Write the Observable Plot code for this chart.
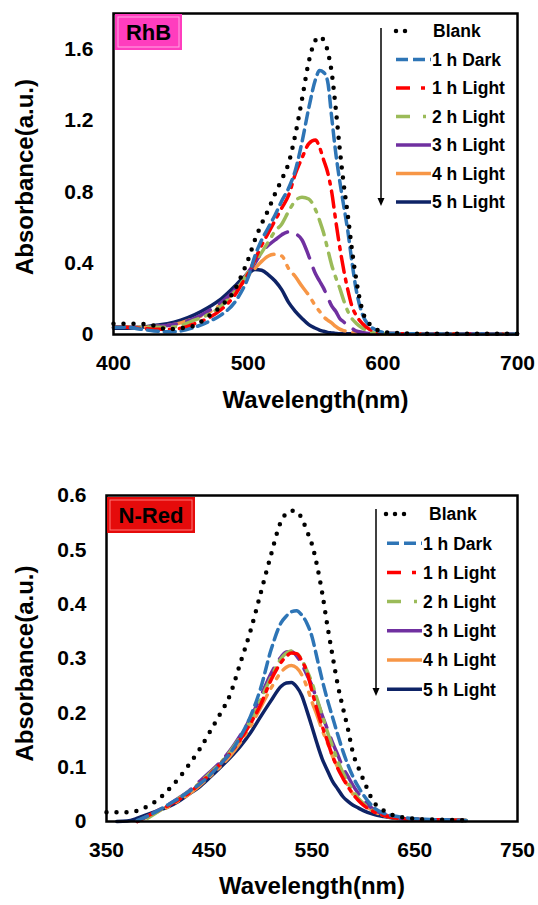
<!DOCTYPE html>
<html><head><meta charset="utf-8">
<script src="https://cdn.jsdelivr.net/npm/d3@7"></script>
<script src="https://cdn.jsdelivr.net/npm/@observablehq/plot@0.6"></script>
<style>
html,body{margin:0;padding:0;background:#fff;}
#chart{width:538px;height:905px;position:relative;}
#chart svg{display:block;}
</style></head><body><div id="chart"></div>
<script>
const seriesNames = ["Blank","1 h Dark","1 h Light","2 h Light","3 h Light","4 h Light","5 h Light"];
const seriesColors = ["#000000","#2E75B6","#FF0000","#9BBB59","#7030A0","#F79646","#0E2366"];

// ---- RhB panel ----
const rhbTicksX = [400,500,600,700];
const rhbTicksY = [0,0.4,0.8,1.2,1.6];
const rhbWavelength = [400,410,420,430,440,450,460,470,480,490,495,500,505,510,515,520,525,530,535,540,545,550,553,556,559,562,565,568,571,574,577,580,585,590,595,600,610,620,640,660,680,700];
const rhbBlank  = [.06,.06,.06,.05,.03,.035,.05,.10,.16,.25,.33,.42,.53,.62,.70,.79,.87,.96,1.12,1.32,1.53,1.65,1.67,1.65,1.59,1.47,1.27,1.04,.84,.67,.48,.32,.13,.06,.03,.015,.008,.005,.004,.004,.004,.004];
const rhbDark1  = [.04,.04,.03,.02,.015,.02,.04,.07,.11,.18,.24,.32,.44,.53,.60,.67,.75,.82,.92,1.08,1.27,1.43,1.48,1.47,1.42,1.22,1.02,.86,.72,.58,.41,.26,.11,.05,.025,.012,.006,.004,.003,.003,.003,.003];
const rhbLight1 = [.04,.04,.035,.03,.03,.035,.06,.09,.14,.22,.28,.34,.42,.50,.57,.64,.71,.78,.90,.99,1.07,1.09,1.05,.98,.91,.80,.64,.49,.36,.25,.16,.11,.06,.03,.015,.008,.005,.003,.003,.003,.003,.003];
const rhbLight2 = [.04,.04,.04,.04,.04,.05,.08,.11,.16,.24,.29,.35,.41,.46,.52,.58,.62,.69,.75,.77,.76,.70,.64,.57,.48,.39,.32,.26,.19,.13,.09,.065,.035,.015,.008,.005,.003,.003,.003,.003,.003,.003];
const rhbLight3 = [.04,.04,.04,.045,.05,.065,.09,.13,.18,.25,.30,.35,.40,.46,.50,.53,.56,.575,.565,.53,.44,.34,.30,.26,.21,.16,.13,.09,.07,.05,.035,.02,.012,.006,.004,.003,.003,.003,.003,.003,.003,.003];
const rhbLight4 = [.04,.04,.04,.045,.05,.065,.09,.12,.17,.24,.28,.33,.37,.41,.44,.45,.44,.37,.325,.27,.22,.16,.13,.10,.08,.065,.045,.03,.022,.016,.012,.009,.006,.004,.003,.003,.003,.003,.003,.003,.003,.003];
const rhbLight5 = [.035,.035,.04,.05,.06,.08,.11,.15,.20,.27,.31,.34,.365,.36,.335,.30,.25,.18,.13,.09,.055,.035,.025,.018,.012,.009,.006,.004,.004,.004,.004,.004,.004,.004,.004,.004,.004,.004,.004,.004,.004,.004];

// ---- N-Red panel ----
const nredTicksX = [350,450,550,650,750];
const nredTicksY = [0,0.1,0.2,0.3,0.4,0.5,0.6];
const nredWavelength = [350,360,370,380,390,400,410,420,430,440,450,460,470,480,490,500,510,520,525,530,535,540,545,550,555,560,565,570,575,580,585,590,595,600,610,620,630,640,650,660,680,700];
const nredBlank  = [.017,.017,.017,.02,.028,.04,.058,.079,.104,.131,.163,.196,.232,.29,.35,.42,.49,.553,.567,.572,.571,.558,.535,.51,.47,.42,.36,.305,.252,.21,.17,.125,.10,.077,.036,.02,.011,.007,.005,.004,.003,.002];
const nredDark1  = [null,null,null,.002,.01,.02,.031,.042,.055,.068,.084,.104,.125,.155,.193,.245,.315,.366,.378,.386,.388,.38,.365,.34,.30,.26,.224,.192,.16,.13,.104,.082,.064,.049,.026,.015,.01,.007,.005,.004,.003,.002];
const nredLight1 = [null,null,null,.0,.01,.02,.029,.04,.052,.068,.086,.104,.125,.15,.18,.215,.26,.293,.304,.31,.309,.296,.276,.24,.205,.175,.148,.12,.098,.08,.064,.05,.039,.03,.018,.011,.007,.005,.004,.003,.003,.002];
const nredLight2 = [null,null,null,null,.006,.018,.029,.042,.055,.07,.088,.106,.128,.155,.186,.224,.265,.30,.31,.314,.31,.298,.278,.255,.225,.195,.165,.138,.112,.09,.072,.056,.043,.033,.019,.011,.007,.005,.004,.003,.003,.002];
const nredLight3 = [null,null,null,.0,.01,.02,.031,.043,.056,.073,.09,.108,.13,.158,.19,.23,.272,.303,.312,.313,.305,.29,.27,.25,.222,.195,.17,.145,.123,.10,.083,.066,.052,.04,.022,.013,.008,.005,.004,.003,.003,.002];
const nredLight4 = [null,null,null,.0,.009,.018,.027,.038,.05,.065,.082,.10,.12,.145,.175,.21,.245,.275,.284,.287,.283,.27,.248,.22,.195,.168,.145,.12,.10,.083,.066,.05,.04,.032,.019,.011,.007,.005,.004,.003,.003,.002];
const nredLight5 = [null,.0,.001,.006,.013,.02,.027,.037,.05,.063,.08,.098,.117,.138,.163,.193,.222,.249,.255,.256,.248,.232,.204,.174,.143,.115,.094,.074,.06,.046,.037,.03,.025,.02,.013,.009,.006,.005,.004,.003,.002,.002];

const lineStyles = [
  {strokeWidth: 4.5, strokeDasharray: "0,10", strokeLinecap: "round"},
  {strokeWidth: 3.5, strokeDasharray: "11,6"},
  {strokeWidth: 3.5, strokeDasharray: "16,7,3,7"},
  {strokeWidth: 3.5, strokeDasharray: "16,8,3,8"},
  {strokeWidth: 3.5, strokeDasharray: "26,11"},
  {strokeWidth: 3.5, strokeDasharray: "24,8,3,8,3,8"},
  {strokeWidth: 3.5}
];
const legendStyles = [
  {strokeWidth: 4.5, dash: "0,9", cap: "round"},
  {strokeWidth: 3.5, dash: "12,5"},
  {strokeWidth: 3.5, dash: "14,11,4,11"},
  {strokeWidth: 3.5, dash: "14,13,3,11"},
  {strokeWidth: 3.5, dash: null},
  {strokeWidth: 3.5, dash: null},
  {strokeWidth: 3.5, dash: null}
];

const fmt = d => d === 0 ? "0" : d.toFixed(1);
const FONT = "'Liberation Sans', Arial, sans-serif";

function rows(wl, vals) {
  return wl.map((x, i) => ({x, y: vals[i]})).filter(d => d.y != null);
}

function panel(cfg) {
  const lines = [];
  for (let k = cfg.series.length - 1; k >= 0; k--) {
    lines.push(Plot.line(rows(cfg.wl, cfg.series[k]), {
      x: "x", y: "y", stroke: seriesColors[k], curve: "monotone-x", ...lineStyles[k]
    }));
  }
  const svg = Plot.plot({
    width: 538, height: cfg.height,
    marginTop: cfg.marginTop, marginBottom: cfg.marginBottom,
    marginLeft: cfg.marginLeft, marginRight: cfg.marginRight,
    style: {fontFamily: FONT, fontWeight: "bold", fontSize: "21px", color: "black", background: "white", overflow: "visible"},
    x: {domain: cfg.xDomain},
    y: {domain: cfg.yDomain},
    marks: [
      Plot.axisX({ticks: cfg.xTicks, tickSize: 0, tickPadding: 21, label: null, tickFormat: d => String(d), fontSize: 21, fontWeight: "bold"}),
      Plot.axisY({ticks: cfg.yTicks, tickSize: 0, tickPadding: 20, label: null, tickFormat: fmt, fontSize: 21, fontWeight: "bold"}),
      ...lines,
      Plot.frame({stroke: "black", strokeWidth: 2.5}),
      Plot.text(["Wavelength(nm)"], {frameAnchor: "bottom", dy: cfg.xLabelDy, fontSize: 24, fontWeight: "bold", fill: "black", textAnchor: "middle"}),
      Plot.text(["Absorbance(a.u.)"], {frameAnchor: "left", rotate: -90, dx: cfg.yLabelDx, dy: cfg.yLabelDy, fontSize: 24, fontWeight: "bold", fill: "black", textAnchor: "middle"})
    ]
  });
  const g = d3.select(svg).append("g").attr("font-family", FONT).attr("font-weight", "bold").attr("text-anchor", "start");
  // tag box
  const t = cfg.tag;
  g.append("rect").attr("x", t.x).attr("y", t.y).attr("width", t.w).attr("height", t.h).attr("fill", t.fill);
  g.append("rect").attr("x", t.x + 3).attr("y", t.y + 3).attr("width", t.w - 6).attr("height", t.h - 6)
    .attr("fill", "none").attr("stroke", t.inner).attr("stroke-width", 1);
  g.append("text").attr("x", t.x + t.w / 2).attr("y", t.y + t.h / 2).attr("dy", "0.36em")
    .attr("text-anchor", "middle").attr("font-size", 22).attr("fill", "black").text(t.text);
  // legend
  const L = cfg.legend;
  g.append("line").attr("x1", L.arrowX).attr("x2", L.arrowX).attr("y1", L.arrowY1).attr("y2", L.arrowY2 - 6)
    .attr("stroke", "black").attr("stroke-width", 1.5);
  g.append("path").attr("d", `M${L.arrowX - 3.5},${L.arrowY2 - 8}L${L.arrowX + 3.5},${L.arrowY2 - 8}L${L.arrowX},${L.arrowY2}Z`).attr("fill", "black");
  seriesNames.forEach((name, i) => {
    const y = L.y0 + i * L.dy;
    const s = legendStyles[i];
    const x1 = i === 0 ? L.dotX1 : L.x1, x2 = i === 0 ? L.dotX2 : L.x2;
    const ln = g.append("line").attr("x1", x1).attr("x2", x2).attr("y1", y).attr("y2", y)
      .attr("stroke", seriesColors[i]).attr("stroke-width", s.strokeWidth);
    if (s.dash) ln.attr("stroke-dasharray", s.dash);
    if (s.cap) ln.attr("stroke-linecap", s.cap);
    g.append("text").attr("x", i === 0 ? L.blankTextX : L.textX).attr("y", y).attr("dy", "0.36em")
      .attr("text-anchor", "start").attr("font-size", 17.5).attr("fill", "black").text(name);
  });
  return svg;
}

const chart = document.getElementById("chart");
chart.appendChild(panel({
  height: 440, marginTop: 13, marginBottom: 106, marginLeft: 113, marginRight: 21,
  wl: rhbWavelength,
  series: [rhbBlank, rhbDark1, rhbLight1, rhbLight2, rhbLight3, rhbLight4, rhbLight5],
  xDomain: [400, 700], xTicks: rhbTicksX, yDomain: [0, 1.8], yTicks: rhbTicksY,
  xLabelDy: 73, yLabelDx: -88, yLabelDy: 3,
  tag: {x: 115, y: 14, w: 67, h: 36, fill: "#FF3DBE", inner: "#FFA8E2", text: "RhB"},
  legend: {arrowX: 381, arrowY1: 28, arrowY2: 206, x1: 396, x2: 431, dotX1: 396, dotX2: 414, textX: 432, blankTextX: 433, y0: 31, dy: 28.5}
}));
chart.appendChild(panel({
  height: 465, marginTop: 55, marginBottom: 84, marginLeft: 106, marginRight: 21,
  wl: nredWavelength,
  series: [nredBlank, nredDark1, nredLight1, nredLight2, nredLight3, nredLight4, nredLight5],
  xDomain: [350, 750], xTicks: nredTicksX, yDomain: [0, 0.6], yTicks: nredTicksY,
  xLabelDy: 72, yLabelDx: -81, yLabelDy: 5,
  tag: {x: 107, y: 57, w: 88, h: 36, fill: "#E50B0B", inner: "#FF7A7A", text: "N-Red"},
  legend: {arrowX: 376, arrowY1: 69, arrowY2: 256, x1: 387, x2: 422, dotX1: 386, dotX2: 408, textX: 423, blankTextX: 429, y0: 74, dy: 29.2}
}));
</script></body></html>
